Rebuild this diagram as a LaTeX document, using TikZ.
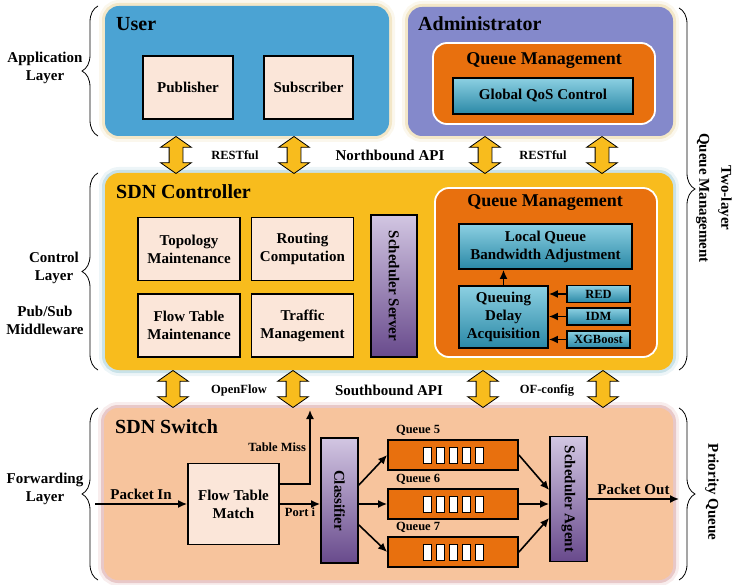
\documentclass[tikz,border=0pt]{standalone}
\usepackage{fontspec}
\setmainfont{Liberation Serif}
\usetikzlibrary{arrows.meta,shapes,shapes.arrows,shadings}
\usetikzlibrary{decorations.pathreplacing}

\newcommand{\txtbig}{\fontsize{20}{22}\selectfont\bfseries}
\newcommand{\txtqm}{\fontsize{18}{20}\selectfont\bfseries}
\newcommand{\txtmid}{\fontsize{15}{18}\selectfont\bfseries}
\newcommand{\txtsmall}{\fontsize{12.5}{14}\selectfont\bfseries}

\definecolor{userblue}{HTML}{4BA3D3}
\definecolor{adminblue}{HTML}{8489CB}
\definecolor{ctrlgold}{HTML}{F8BC1D}
\definecolor{switchpeach}{HTML}{F7C49D}
\definecolor{boxpeach}{HTML}{FBE6D9}
\definecolor{qmorange}{HTML}{E8700E}
\definecolor{tealtop}{HTML}{8CD0E2}
\definecolor{tealbot}{HTML}{2A88A6}
\definecolor{purptop}{HTML}{D2C6E2}
\definecolor{purpbot}{HTML}{684A8C}
\definecolor{glowcream}{HTML}{E9D49A}
\definecolor{glowteal}{HTML}{9CCAD6}
\definecolor{glowrose}{HTML}{D69A9A}

\tikzset{glow/.style={preaction={draw=#1, line width=12pt, opacity=0.18},
                      preaction={draw=#1, line width=6pt, opacity=0.45}}}
\tikzstyle{panel}=[rectangle, rounded corners=14pt, inner sep=0pt]
\tikzstyle{qmpanel}=[rectangle, rounded corners=14pt, fill=qmorange, draw=white, line width=1.8pt, inner sep=0pt]
\tikzstyle{peachbox}=[rectangle, fill=boxpeach, draw=black, line width=1.8pt, inner sep=0pt, align=center, font=\txtmid]
\tikzstyle{tealbox}=[rectangle, top color=tealtop, bottom color=tealbot, draw=black, line width=1.8pt, inner sep=0pt, align=center, font=\txtmid]
\tikzstyle{purplebox}=[rectangle, top color=purptop, bottom color=purpbot, draw=black, line width=1.8pt, inner sep=0pt]
\tikzstyle{vlabel}=[rotate=-90, font=\txtmid, inner sep=0pt]
\tikzstyle{queuebox}=[rectangle, fill=qmorange, draw=black, line width=1.8pt, minimum width=130pt, minimum height=30pt, inner sep=0pt]
\tikzstyle{slot}=[rectangle, fill=white, draw=black, line width=0.7pt, minimum width=8pt, minimum height=16pt, inner sep=0pt]
\tikzstyle{apiarrow}=[double arrow, rotate=90, fill=ctrlgold, draw=black, line width=0.8pt, minimum height=37pt, minimum width=30pt, double arrow head extend=8.5pt, double arrow tip angle=110, inner xsep=0pt, inner ysep=6.5pt]
\tikzstyle{edge}=[draw, line width=1.6pt, -{Latex[length=9pt,width=8pt]}]
\tikzstyle{layerbrace}=[draw, line width=0.8pt, decorate, decoration={brace, amplitude=16pt}]
\tikzstyle{titletext}=[font=\txtbig, inner sep=0pt, anchor=west]
\tikzstyle{sidetext}=[font=\txtmid, align=center, inner sep=0pt]
\tikzstyle{smalltext}=[font=\txtsmall, inner sep=0pt]

\begin{document}
\begin{tikzpicture}[x=1pt, y=-1pt]
\useasboundingbox (0,0) rectangle (733,585);

% layer panels
\node[panel, glow=glowcream, fill=userblue, minimum width=284pt, minimum height=130pt] (user) at (247,71) {};
\node[panel, glow=glowcream, fill=adminblue, minimum width=265pt, minimum height=129pt] (admin) at (540.5,71.5) {};
\node[panel, glow=glowteal, fill=ctrlgold, minimum width=568pt, minimum height=197pt] (ctrl) at (389,271.5) {};
\node[panel, glow=glowrose, fill=switchpeach, minimum width=569pt, minimum height=172pt] (switch) at (388.5,494) {};

\node[titletext] (usertitle) at (116,24) {User};
\node[titletext] (admintitle) at (418,24) {Administrator};
\node[titletext] (ctrltitle) at (116,192) {SDN Controller};
\node[titletext] (switchtitle) at (115,427) {SDN Switch};

% application layer
\node[peachbox, minimum width=90pt, minimum height=63pt] (pub) at (188,87.5) {Publisher};
\node[peachbox, minimum width=89pt, minimum height=63pt] (sub) at (308.5,87.5) {Subscriber};
\node[qmpanel, minimum width=222pt, minimum height=81pt] (qmadmin) at (544,83.5) {};
\node[font=\txtqm, inner sep=0pt] (qmadmintitle) at (544,61) {Queue Management};
\node[tealbox, minimum width=180pt, minimum height=36pt] (qos) at (543,96) {Global QoS Control};

% control layer
\foreach \pos/\name/\txt in {{(189,249)/topo/Topology\\Maintenance}, {(302.5,249)/routing/Routing\\Computation},
    {(189,325.5)/flowmaint/Flow Table\\Maintenance}, {(302.5,325.5)/traffic/Traffic\\Management}}
    \node[peachbox, minimum width=102pt, minimum height=63pt] (\name) at \pos {\txt};

\node[purplebox, minimum width=46pt, minimum height=142pt] (sched) at (394,286) {};
\node[vlabel] (schedlbl) at (sched) {Scheduler Server};
\node[qmpanel, minimum width=222pt, minimum height=169pt] (qmctrl) at (546,272.5) {};
\node[font=\txtqm, inner sep=0pt] (qmctrltitle) at (545,203) {Queue Management};
\node[tealbox, minimum width=173pt, minimum height=45pt] (lqba) at (545.5,246.5) {Local Queue\\Bandwidth Adjustment};
\node[tealbox, minimum width=89pt, minimum height=62pt] (qda) at (503.5,317) {Queuing\\Delay\\Acquisition};
\foreach \y/\name/\txt in {294/red/RED, 316.5/idm/IDM, 339.5/xgb/XGBoost} {
    \node[tealbox, font=\txtsmall, minimum width=63pt, minimum height=17pt] (\name) at (598.5,\y) {\txt};
    \path[edge] (\name) -- (\name.west -| qda.east);
}
\path[edge] (qda.north) -- (qda.north |- lqba.south);

% API arrows
\foreach \pos/\name in {{(176,155)/nb1}, {(294,155)/nb2}, {(485,155)/nb3}, {(602,155)/nb4},
    {(173,389)/sb1}, {(293,389)/sb2}, {(483,389)/sb3}, {(603,389)/sb4}}
    \node[apiarrow] (\name) at \pos {};
\node[smalltext] (rest1) at (235,155) {RESTful};
\node[font=\txtmid, inner sep=0pt] (northapi) at (390,155) {Northbound API};
\node[smalltext] (rest2) at (543,155) {RESTful};
\node[smalltext] (openflow) at (239,390) {OpenFlow};
\node[font=\txtmid, inner sep=0pt] (southapi) at (389,390) {Southbound API};
\node[smalltext] (ofconfig) at (547,390) {OF-config};

% forwarding layer
\coordinate (pin) at (95,504);
\coordinate (miss) at (310,410);
\coordinate (pout) at (679,499);
\node[peachbox, minimum width=91pt, minimum height=81pt] (match) at (233.5,504) {Flow Table\\Match};
\node[purplebox, minimum width=37pt, minimum height=125pt] (classifier) at (339.5,500.5) {};
\node[vlabel] (classlbl) at (classifier) {Classifier};
\node[purplebox, minimum width=37pt, minimum height=125pt] (agent) at (568.5,499) {};
\node[vlabel] (agentlbl) at (agent) {Scheduler Agent};

\foreach \y/\name/\num in {455/q5/5, 504/q6/6, 552/q7/7} {
    \node[queuebox] (\name) at (453,\y) {};
    \node[smalltext] (\name lbl) at ([xshift=31pt, yshift=9pt]\name.north west) {Queue \num};
    \foreach \dx [count=\k] in {-26,-13,0,13,26}
        \node[slot] (\name s\k) at ([xshift=\dx pt]\name.center) {};
}

\path[edge] (pin) -- node[above, font=\txtmid] {Packet In} (match);
\path[edge] ([yshift=20pt]match.east) -| node[pos=0.75, left, font=\txtsmall] {Table Miss} (miss);
\path[edge] (match.east) -- node[below, font=\txtsmall] {Port i} (match.east -| classifier.west);
\path[edge] ([yshift=15.5pt]classifier.east) -- (q5.west);
\path[edge] (classifier.east |- q6.west) -- (q6.west);
\path[edge] ([yshift=-24.5pt]classifier.east) -- (q7.west);
\path[edge] (q5.east) -- ([yshift=9pt]agent.west);
\path[edge] (q6.east) -- (q6.east -| agent.west);
\path[edge] (q7.east) -- ([yshift=-19pt]agent.west);
\path[edge] (agent.east) -- node[above, font=\txtmid] {Packet Out} (pout);

% layer braces
\draw[layerbrace] (98,136) -- (98,6);
\draw[layerbrace] (98,370) -- (98,173);
\draw[layerbrace] (98,580) -- (98,408);
\draw[layerbrace] (679,8) -- (679,370);
\draw[layerbrace] (679,408) -- (679,580);

\node[sidetext] (applayer) at (45,68) {Application\\Layer};
\node[sidetext] (ctrllayer) at (54,268) {Control\\Layer};
\node[sidetext] (pubsub) at (45,320) {Pub/Sub\\Middleware};
\node[sidetext] (fwdlayer) at (45,489) {Forwarding\\Layer};
\node[sidetext, rotate=-90, font=\fontsize{15}{22}\selectfont\bfseries] (twolayer) at (714,198) {Two-layer\\Queue Management};
\node[sidetext, rotate=-90] (prio) at (712,492) {Priority Queue};
\end{tikzpicture}
\end{document}
